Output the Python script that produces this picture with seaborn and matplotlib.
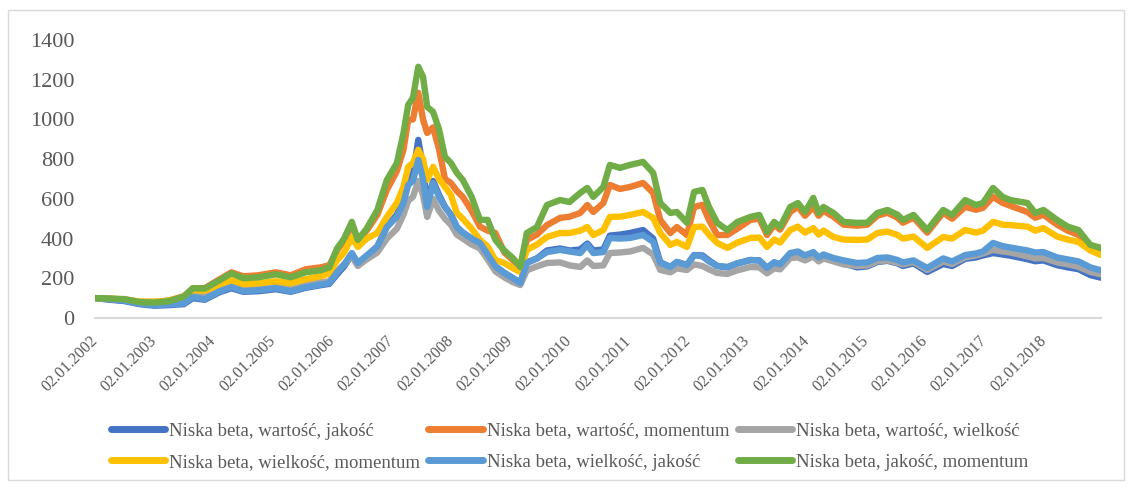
import numpy as np
import pandas as pd
import matplotlib
matplotlib.use("Agg")
import matplotlib.pyplot as plt
from matplotlib.lines import Line2D
from matplotlib.patches import Rectangle
import seaborn as sns

# Time axis in fractional years (2002.0 = 02.01.2002)
t_years = [
    2002.00, 2002.25, 2002.50, 2002.75, 2003.00, 2003.25, 2003.50, 2003.65, 2003.85,
    2004.10, 2004.30, 2004.50, 2004.75, 2005.05, 2005.30, 2005.55, 2005.80, 2005.95,
    2006.08, 2006.20, 2006.33, 2006.43, 2006.58, 2006.76, 2006.92, 2007.09, 2007.20,
    2007.28, 2007.36, 2007.45, 2007.53, 2007.60, 2007.70, 2007.80, 2007.90, 2008.00,
    2008.10, 2008.20, 2008.35, 2008.49, 2008.62, 2008.75, 2008.90, 2009.05, 2009.17,
    2009.28, 2009.45, 2009.62, 2009.84, 2010.00, 2010.18, 2010.30, 2010.40, 2010.57,
    2010.68, 2010.85, 2011.02, 2011.24, 2011.41, 2011.53, 2011.70, 2011.81, 2011.98,
    2012.10, 2012.24, 2012.35, 2012.49, 2012.66, 2012.83, 2013.05, 2013.20, 2013.33,
    2013.45, 2013.55, 2013.72, 2013.85, 2013.97, 2014.11, 2014.20, 2014.28, 2014.45,
    2014.62, 2014.85, 2015.02, 2015.19, 2015.36, 2015.53, 2015.62, 2015.80, 2016.03,
    2016.30, 2016.45, 2016.67, 2016.85, 2016.97, 2017.14, 2017.30, 2017.43, 2017.72,
    2017.85, 2017.99, 2018.22, 2018.40, 2018.58, 2018.78, 2018.96,
]

wartosc_jakosc = [
    100, 92, 85, 70, 62, 65, 70, 100, 92,
    130, 150, 132, 135, 145, 132, 152, 165, 172,
    220, 260, 320, 275, 310, 360, 460, 520, 600,
    700, 720, 897, 760, 570, 690, 620, 560, 520,
    458, 430, 400, 378, 330, 260, 227, 200, 176,
    280, 300, 340, 350, 340, 345, 375, 340, 345,
    415, 420, 428, 443, 400, 280, 257, 282, 267,
    317, 315, 290, 262, 255, 275, 292, 290, 252,
    280, 270, 320, 330, 310, 325, 300, 315, 290,
    275, 255, 260, 282, 288, 275, 262, 275, 232,
    272, 262, 298, 305, 315, 327, 320, 314, 296,
    286, 290, 266, 255, 246, 216, 203,
]

wartosc_momentum = [
    100, 97, 93, 82, 80, 88, 110, 150, 150,
    195, 230, 210, 215, 230, 215, 245, 255, 265,
    340, 390, 470, 390, 440, 520, 645, 740, 847,
    998, 1000, 1134, 1000, 932, 960, 850, 700, 680,
    640, 610, 540, 460, 440, 428, 330, 290, 257,
    393, 420, 468, 504, 510, 529, 569, 534, 579,
    670, 650, 660, 680, 630, 494, 428, 458, 418,
    559, 570, 494, 418, 418, 450, 494, 500, 418,
    470, 445, 534, 560, 515, 559, 515, 540, 510,
    470, 465, 470, 515, 530, 505, 480, 505, 430,
    530, 500, 560, 545, 555, 610, 580, 565, 534,
    505, 520, 470, 440, 418, 360, 343,
]

wartosc_wielkosc = [
    100, 96, 90, 76, 70, 74, 85, 120, 112,
    150, 170, 150, 155, 165, 150, 170, 180, 185,
    235, 270, 310, 262, 295, 330, 400, 450, 520,
    590, 610, 690, 620, 509, 600, 540, 500, 470,
    420, 400, 370, 350, 295, 235, 205, 180, 166,
    240, 260, 277, 280, 265, 257, 290, 262, 265,
    327, 330, 335, 353, 320, 242, 230, 250, 242,
    270, 262, 245, 227, 222, 240, 257, 255, 225,
    250, 245, 302, 305, 290, 310, 285, 300, 285,
    270, 262, 265, 285, 290, 278, 270, 282, 242,
    285, 272, 305, 315, 325, 343, 335, 330, 310,
    300, 302, 280, 270, 258, 232, 220,
]

wielkosc_momentum = [
    100, 97, 93, 82, 82, 88, 105, 140, 138,
    165, 190, 170, 175, 185, 175, 195, 210, 225,
    290, 330, 408, 358, 400, 428, 509, 580, 660,
    761, 780, 847, 800, 695, 761, 700, 660, 620,
    529, 500, 450, 393, 360, 292, 277, 250, 232,
    343, 370, 408, 428, 428, 440, 458, 418, 443,
    509, 510, 519, 534, 504, 428, 368, 383, 358,
    458, 460, 420, 378, 353, 380, 403, 405, 358,
    395, 380, 443, 460, 430, 453, 420, 440, 408,
    395, 393, 395, 428, 435, 418, 400, 410, 353,
    408, 400, 443, 430, 440, 484, 470, 468, 460,
    440, 453, 410, 395, 383, 340, 317,
]

wielkosc_jakosc = [
    100, 95, 88, 72, 65, 68, 74, 106, 95,
    135, 156, 135, 140, 150, 135, 155, 168, 176,
    230, 270, 327, 277, 315, 360, 458, 510, 580,
    670, 690, 796, 700, 559, 680, 610, 559, 520,
    458, 430, 400, 378, 320, 260, 227, 200, 176,
    277, 300, 332, 343, 335, 327, 368, 327, 332,
    403, 400, 403, 418, 383, 277, 257, 282, 267,
    317, 310, 285, 262, 257, 275, 292, 290, 252,
    280, 270, 327, 335, 315, 332, 305, 320, 302,
    290, 277, 280, 302, 305, 292, 280, 290, 252,
    300, 285, 317, 325, 335, 378, 362, 355, 340,
    330, 332, 305, 295, 285, 255, 240,
]

jakosc_momentum = [
    100, 98, 95, 80, 78, 85, 108, 150, 148,
    190, 225, 200, 205, 220, 205, 230, 240, 255,
    350, 400, 484, 393, 450, 544, 695, 781, 930,
    1073, 1108, 1265, 1215, 1063, 1038, 950, 811, 781,
    731, 695, 610, 494, 494, 393, 340, 300, 257,
    428, 458, 569, 594, 584, 630, 655, 610, 660,
    771, 756, 771, 786, 731, 579, 529, 534, 479,
    635, 645, 560, 479, 443, 484, 509, 519, 433,
    484, 458, 559, 579, 534, 605, 529, 559, 529,
    484, 479, 480, 529, 544, 520, 494, 519, 443,
    544, 519, 594, 569, 579, 655, 610, 594, 579,
    529, 544, 494, 460, 443, 368, 353,
]

series_labels = [
    "Niska beta, wartość, jakość",
    "Niska beta, wartość, momentum",
    "Niska beta, wartość, wielkość",
    "Niska beta, wielkość, momentum",
    "Niska beta, wielkość, jakość",
    "Niska beta, jakość, momentum",
]
series_values = [
    wartosc_jakosc, wartosc_momentum, wartosc_wielkosc,
    wielkosc_momentum, wielkosc_jakosc, jakosc_momentum,
]
colors = ["#4472C4", "#ED7D31", "#A5A5A5", "#FFC000", "#5B9BD5", "#70AD47"]

year_ticks = list(range(2002, 2019))
year_labels = [f"02.01.{y}" for y in year_ticks]
y_ticks = [0, 200, 400, 600, 800, 1000, 1200, 1400]

df = pd.concat(
    [pd.DataFrame({"t": t_years, "value": v, "series": name})
     for name, v in zip(series_labels, series_values)],
    ignore_index=True,
)

sns.set_theme(style="white")
plt.rcParams["font.family"] = ["Liberation Serif", "DejaVu Serif"]
text_color = "#595959"

fig = plt.figure(figsize=(11.32, 4.88), dpi=100)
ax = fig.add_axes([95 / 1132, 1 - 318 / 488, (1101 - 95) / 1132, (318 - 40) / 488])

sns.lineplot(
    data=df, x="t", y="value", hue="series", hue_order=series_labels,
    palette=colors, sort=False, estimator=None, legend=False, ax=ax,
    linewidth=4.6,
)
for ln in ax.lines:
    ln.set_solid_capstyle("round")
    ln.set_solid_joinstyle("round")

ax.set_xlim(2002.0, 2018.96)
ax.set_ylim(0, 1400)
ax.set_xticks(year_ticks)
ax.set_xticklabels(year_labels, rotation=45, ha="right", va="center",
                   rotation_mode="anchor", fontsize=11.5, color=text_color)
ax.set_yticks(y_ticks)
ax.set_yticklabels([str(v) for v in y_ticks], fontsize=16, color=text_color)
ax.tick_params(axis="x", length=0, pad=15)
ax.tick_params(axis="y", length=0, pad=15)
ax.set_xlabel("")
ax.set_ylabel("")
ax.grid(False)
for side in ["top", "right", "left"]:
    ax.spines[side].set_visible(False)
ax.spines["bottom"].set_color("#D9D9D9")
ax.spines["bottom"].set_linewidth(1.5)

# Legend laid out row by row: 3 columns, 2 rows
handles = [Line2D([0], [0], color=c, lw=5, solid_capstyle="round") for c in colors]
ncol, nrow = 3, 2
order = [r * ncol + c for c in range(ncol) for r in range(nrow)]
fig.legend(
    [handles[i] for i in order], [series_labels[i] for i in order],
    loc="upper center", bbox_to_anchor=(0.503, 1 - 413 / 488),
    ncol=ncol, frameon=False, fontsize=13.5, handlelength=2.9, handletextpad=0.2,
    columnspacing=0.45, labelspacing=0.75, borderpad=0, labelcolor=text_color,
)

# Outer chart frame
fig.patches.append(Rectangle((8 / 1132, 8 / 488), (1124 - 8) / 1132, (478 - 8) / 488,
                             transform=fig.transFigure, fill=False,
                             edgecolor="#D9D9D9", linewidth=1.0))

fig.savefig("out.png", dpi=100)
